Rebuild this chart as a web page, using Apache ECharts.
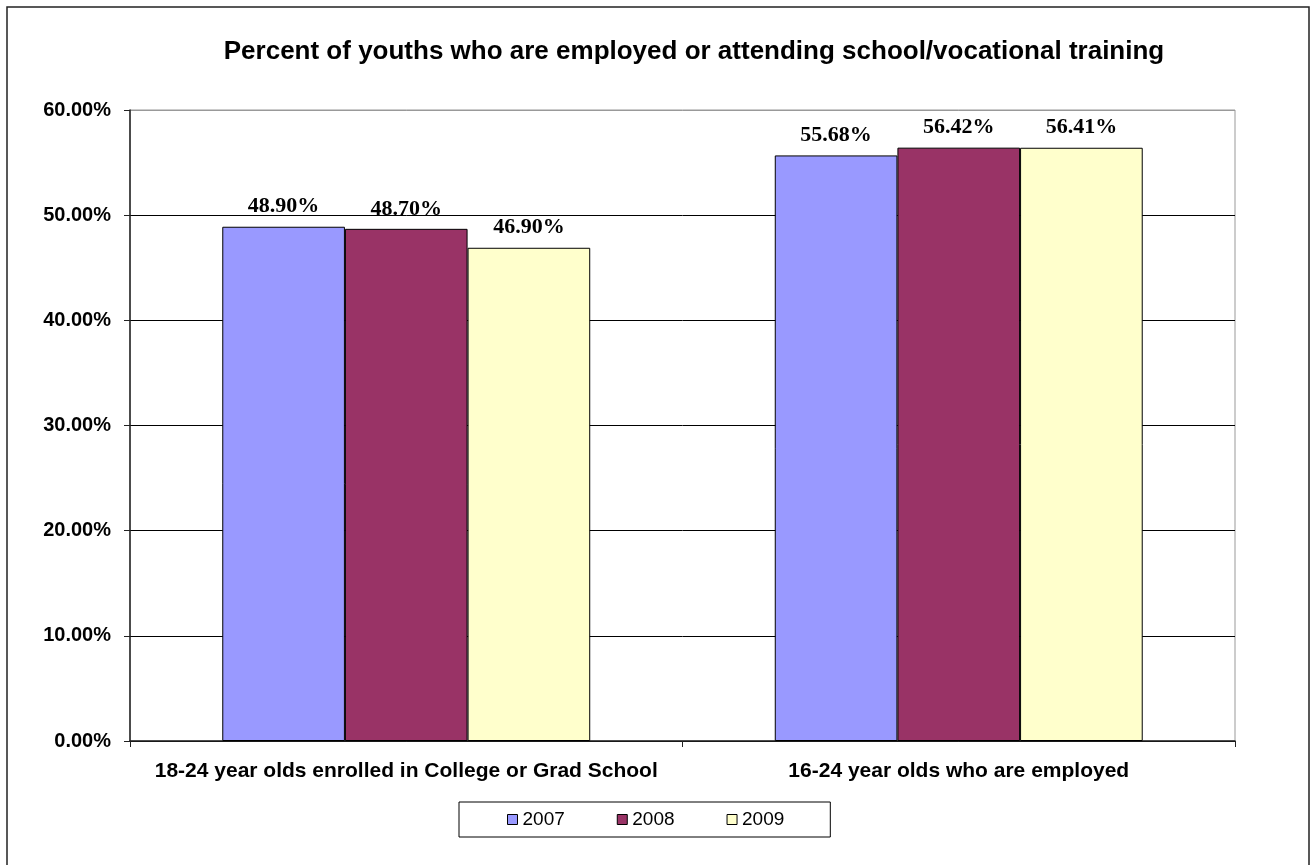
<!DOCTYPE html>
<html>
<head>
<meta charset="utf-8">
<script src="https://cdn.jsdelivr.net/npm/echarts@6/dist/echarts.min.js"></script>
<style>
  html, body { margin: 0; padding: 0; background: #fff; }
  #chart { width: 1311px; height: 865px; }
</style>
</head>
<body>
<div id="chart"></div>
<script>
// Categories along the x axis
const categories = [
  '18-24 year olds enrolled in College or Grad School',
  '16-24 year olds who are employed'
];
// Percent values per year
const years = ['2007', '2008', '2009'];
const values2007 = [48.90, 55.68];
const values2008 = [48.70, 56.42];
const values2009 = [46.90, 56.41];
const yearColors = ['#9999FF', '#993366', '#FFFFCC'];
const yTicks = { min: 0, max: 60, interval: 10 };

const seriesValues = [values2007, values2008, values2009];

const chart = echarts.init(document.getElementById('chart'), null, { renderer: 'canvas' });

const option = {
  animation: false,
  backgroundColor: '#fff',
  title: {
    text: 'Percent of youths who are employed or attending school/vocational training',
    left: 689,
    top: 34,
    textAlign: 'center',
    textStyle: {
      fontFamily: 'Liberation Sans, Arial, sans-serif',
      fontWeight: 'bold',
      fontSize: 26,
      color: '#000'
    }
  },
  graphic: [{
    type: 'rect',
    shape: { x: 7, y: 7, width: 1302, height: 870 },
    style: { fill: null, stroke: '#222', lineWidth: 1.5 },
    silent: true
  }],
  legend: {
    data: years,
    left: 459,
    top: 802,
    orient: 'horizontal',
    itemWidth: 10,
    itemHeight: 10,
    itemGap: 52,
    padding: [8, 46, 8, 48],
    borderColor: '#000',
    borderWidth: 1,
    icon: 'rect',
    itemStyle: { borderColor: '#000', borderWidth: 1 },
    textStyle: {
      fontFamily: 'Liberation Sans, Arial, sans-serif',
      fontSize: 19,
      color: '#000'
    }
  },
  grid: {
    left: 130,
    right: 1311 - 1235,
    top: 110,
    bottom: 865 - 741,
    show: true,
    borderColor: '#999',
    borderWidth: 1,
    containLabel: false
  },
  xAxis: {
    type: 'category',
    data: categories,
    axisLine: { lineStyle: { color: '#222', width: 1.5 } },
    axisTick: { show: true, alignWithLabel: false, length: 6, lineStyle: { color: '#222' } },
    axisLabel: {
      interval: 0,
      margin: 20,
      fontFamily: 'Liberation Sans, Arial, sans-serif',
      fontWeight: 'bold',
      fontSize: 21,
      color: '#000'
    }
  },
  yAxis: {
    type: 'value',
    min: yTicks.min,
    max: yTicks.max,
    interval: yTicks.interval,
    axisLine: { show: true, lineStyle: { color: '#222', width: 1.5 } },
    axisTick: { show: true, length: 6, lineStyle: { color: '#222' } },
    axisLabel: {
      margin: 19,
      formatter: v => v.toFixed(2) + '%',
      fontFamily: 'Liberation Sans, Arial, sans-serif',
      fontWeight: 'bold',
      fontSize: 20,
      color: '#000'
    },
    splitLine: {
      show: true,
      lineStyle: { color: ['#000', '#000', '#000', '#000', '#000', '#000', '#999'], width: 1 }
    }
  },
  series: years.map((y, i) => ({
    name: y,
    type: 'bar',
    data: seriesValues[i],
    barGap: '0%',
    barCategoryGap: '33.4%',
    itemStyle: { color: yearColors[i], borderColor: '#000', borderWidth: 1 },
    label: {
      show: true,
      position: 'top',
      distance: 9,
      formatter: p => p.value.toFixed(2) + '%',
      fontFamily: 'Liberation Serif, Times New Roman, serif',
      fontWeight: 'bold',
      fontSize: 22,
      color: '#000'
    }
  }))
};

chart.setOption(option);
</script>
</body>
</html>
